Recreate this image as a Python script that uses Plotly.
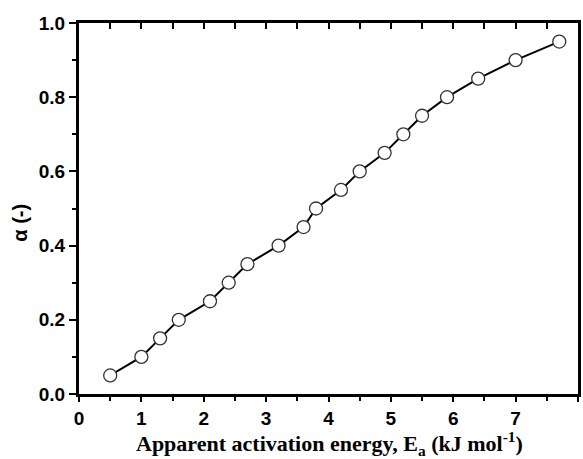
import plotly.graph_objects as go

energy = [0.5, 1.0, 1.3, 1.6, 2.1, 2.4, 2.7, 3.2, 3.6, 3.8, 4.2, 4.5, 4.9, 5.2, 5.5, 5.9, 6.4, 7.0, 7.7]
alpha = [0.05, 0.10, 0.15, 0.20, 0.25, 0.30, 0.35, 0.40, 0.45, 0.50, 0.55, 0.60, 0.65, 0.70, 0.75, 0.80, 0.85, 0.90, 0.95]
x_ticks = [0, 1, 2, 3, 4, 5, 6, 7, 8]
x_labels = ["0", "1", "2", "3", "4", "5", "6", "7", "8"]
y_ticks = [0.0, 0.2, 0.4, 0.6, 0.8, 1.0]
y_labels = ["0.0", "0.2", "0.4", "0.6", "0.8", "1.0"]
x_title = "<b>Apparent activation energy, E<sub>a</sub> (kJ mol<sup>-1</sup>)</b>"
y_title = "<b>α (-)</b>"

fig = go.Figure()
fig.add_trace(go.Scatter(
    x=energy, y=alpha, mode="lines+markers",
    line=dict(color="black", width=2),
    marker=dict(symbol="circle", size=13, color="white",
                line=dict(color="#333333", width=1.3)),
    showlegend=False, cliponaxis=False))
# invisible trace to anchor the mirrored (top/right) axes
fig.add_trace(go.Scatter(x=energy, y=alpha, xaxis="x2", yaxis="y2",
                         mode="markers", marker=dict(opacity=0),
                         showlegend=False, hoverinfo="skip"))

tickfont = dict(family="Liberation Sans, Arial", size=19, color="black", weight="bold")
common = dict(showgrid=False, zeroline=False, automargin=False, showline=True,
              linewidth=3, linecolor="black", tickwidth=2, tickcolor="black")

fig.update_layout(
    width=583, height=459,
    margin=dict(l=79, r=5, t=23, b=65),
    plot_bgcolor="white", paper_bgcolor="white",
    xaxis=dict(range=[0, 8], tickvals=x_ticks,
               ticktext=["<b>%s</b>" % t for t in x_labels],
               ticks="outside", ticklen=5, tickfont=tickfont,
               minor=dict(ticks="outside", ticklen=4, tickwidth=2, dtick=0.5,
                          tickcolor="black", showgrid=False),
               **common),
    yaxis=dict(range=[0, 1], tickvals=y_ticks,
               ticktext=["<b>%s</b>" % t for t in y_labels],
               ticks="outside", ticklen=7, tickfont=tickfont,
               minor=dict(ticks="outside", ticklen=4, tickwidth=2, dtick=0.1,
                          tickcolor="black", showgrid=False),
               **common),
    xaxis2=dict(range=[0, 8], overlaying="x", side="top", dtick=0.5, tick0=0,
                ticks="inside", ticklen=6, showticklabels=False,
                **common),
    yaxis2=dict(range=[0, 1], overlaying="y", side="right",
                ticks="", showticklabels=False,
                **common),
    annotations=[
        dict(text=y_title, textangle=-90, xref="paper", yref="paper",
             x=-0.12, y=0.462, xanchor="center", yanchor="middle",
             showarrow=False,
             font=dict(family="Liberation Sans, Arial", size=20, color="black")),
        dict(text=x_title, xref="paper", yref="paper",
             x=0.502, y=-0.133, xanchor="center", yanchor="middle",
             showarrow=False,
             font=dict(family="Liberation Serif, Times New Roman", size=22,
                       color="black")),
    ],
)

fig.write_html("out.html")
